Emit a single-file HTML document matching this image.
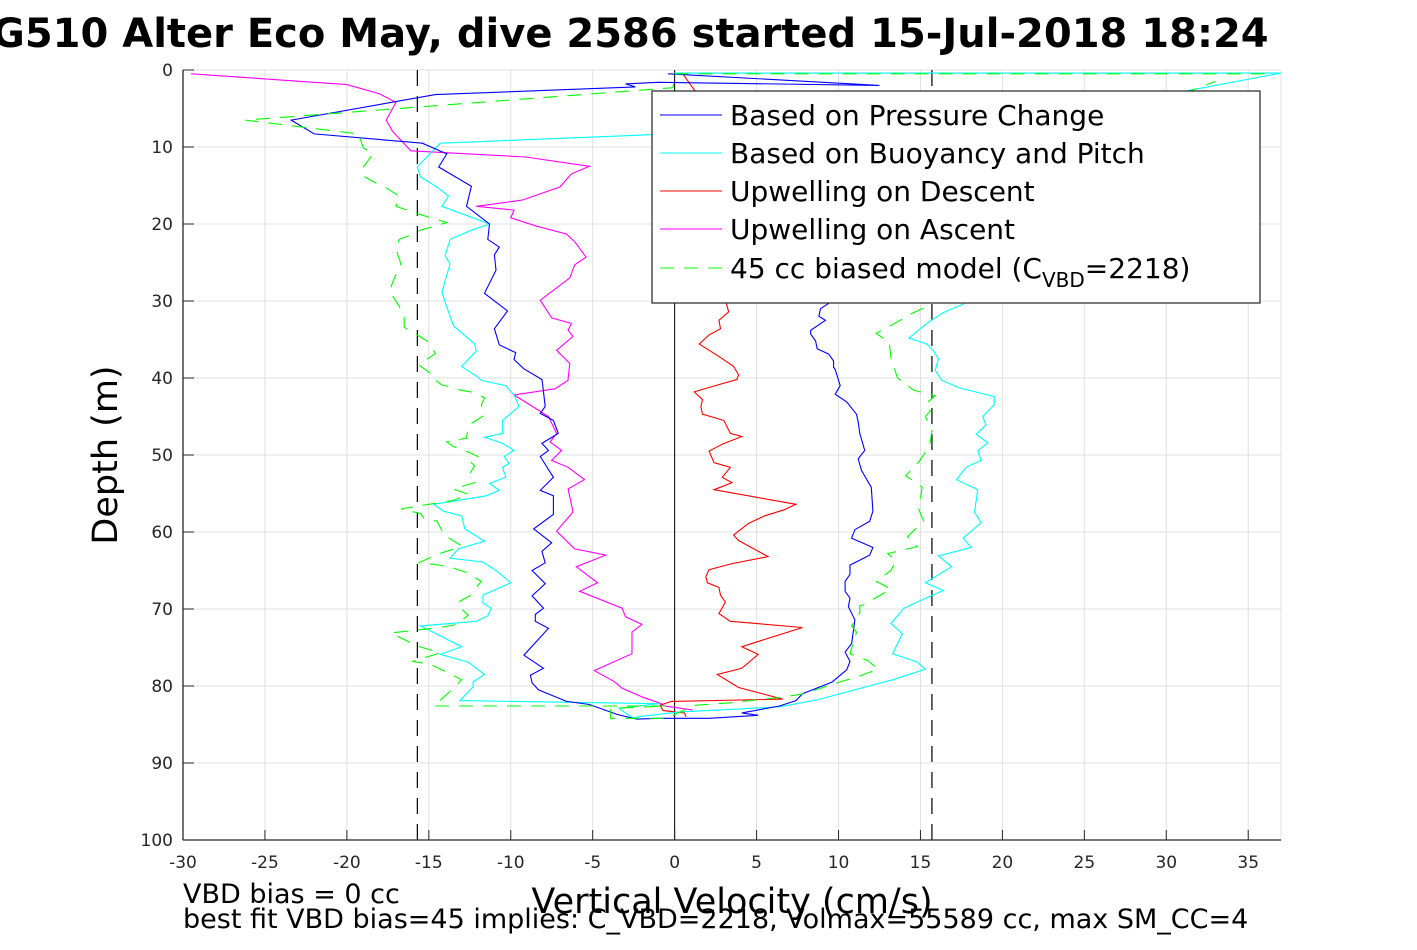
<!DOCTYPE html>
<html><head><meta charset="utf-8"><style>
body{margin:0;background:#fff;}
svg text{font-family:"DejaVu Sans","Liberation Sans",sans-serif;}
</style></head><body>
<svg id="chart" width="1417" height="945" xmlns="http://www.w3.org/2000/svg">
<rect width="1417" height="945" fill="#fff"/>
<text x="-8" y="47" font-size="40" font-weight="bold" fill="#000">G510 Alter Eco May, dive 2586 started 15-Jul-2018 18:24</text>
<g id="grid"></g>
<g id="series"></g>
<g id="axes"></g>
<text transform="translate(117,455) rotate(-90)" text-anchor="middle" font-size="35">Depth (m)</text>
<text x="732" y="913" text-anchor="middle" font-size="35">Vertical Velocity (cm/s)</text>
<text x="183" y="903" font-size="27">VBD bias = 0 cc</text>
<text x="183" y="928" font-size="27">best fit VBD bias=45 implies: C_VBD=2218, Volmax=55589 cc, max SM_CC=4</text>
<g>
<rect x="652" y="91" width="608" height="212" fill="#fff" stroke="#222" stroke-width="1.2"/>
<line x1="660" y1="115" x2="722" y2="115" stroke="#00f"/><text x="730" y="125" font-size="28">Based on Pressure Change</text>
<line x1="660" y1="153" x2="722" y2="153" stroke="#0ff"/><text x="730" y="163" font-size="28">Based on Buoyancy and Pitch</text>
<line x1="660" y1="191" x2="722" y2="191" stroke="#f00"/><text x="730" y="201" font-size="28">Upwelling on Descent</text>
<line x1="660" y1="229" x2="722" y2="229" stroke="#f0f"/><text x="730" y="239" font-size="28">Upwelling on Ascent</text>
<line x1="660" y1="268" x2="722" y2="268" stroke="#0f0" stroke-dasharray="14,10"/><text x="730" y="278" font-size="28">45 cc biased model (C<tspan font-size="20" dy="9">VBD</tspan><tspan dy="-9">=2218)</tspan></text>
</g>
</svg>
<script>
const xTicks=[-30,-25,-20,-15,-10,-5,0,5,10,15,20,25,30,35];
const yTicks=[0,10,20,30,40,50,60,70,80,90,100];
const vbdLimit=15.7;
const bluePressure=[[-0.4,0.5],[12.5,2],[-1,1.6],[-3,1.8],[-2.4,2.2],[-14.6,3.2],[-23.4,6.5],[-22,8.3],[-15.4,9.5],[-13.9,10.9],[-14.4,12.6],[-12.4,15.1],[-12.7,17.7],[-11.3,20],[-11.4,22],[-10.7,23],[-11,24],[-10.9,26],[-11.6,29],[-10.2,31.3],[-11,33.6],[-10.7,35.7],[-9.7,36.7],[-9.8,37.6],[-9.2,38.8],[-8.1,40.2],[-8.05,40.9],[-7.9,43.7],[-8.2,44.6],[-7.4,45.5],[-7.1,47.2],[-8.1,48.5],[-7.7,49.4],[-8.2,50.2],[-7.4,52.9],[-8.2,54.6],[-7.4,55.3],[-7.4,57.7],[-8.6,59.6],[-7.5,61.4],[-8.1,62.5],[-7.9,64],[-8.7,65],[-7.9,66.7],[-8.7,68.3],[-8,69.9],[-8.5,70.7],[-8.5,71.6],[-7.7,72.5],[-9.2,76],[-8,77.7],[-8.8,78.6],[-8.7,79.6],[-8.3,80.5],[-6.6,82],[-5.2,82.4],[-3.5,83.7],[-2.3,84.3],[-0.9,84.2],[2.1,84.2],[5.1,83.8],[4.1,83.5],[6.4,82.6],[7.4,81.9],[7.8,81],[9.6,79.5],[10.5,77.9],[10.7,76.8],[10.4,75.6],[10.8,74.5],[11,71.4],[10.6,69.7],[10.7,68.6],[10.4,67.7],[10.4,66.4],[10.7,65.5],[10.7,64.3],[11.9,63],[12.1,62],[10.8,60.8],[11,59.7],[11.9,58.6],[12.1,57.3],[12,54.2],[11.7,53.1],[11.4,52],[11.2,50.5],[11.6,49.4],[11.3,47.2],[11.2,45.7],[11.1,44.7],[10.5,43.1],[9.8,42.1],[10.1,41],[9.8,38.9],[9.7,38.6],[9.7,37.8],[9.4,36.9],[8.7,36.2],[8.6,35.2],[8.3,34.3],[8.3,33.8],[9.2,32.5],[8.8,32],[8.9,31],[9.7,29.9],[10,20],[9,10],[9.2,2.7]];
const cyanBuoyancy=[[0,0.4],[37,0.4],[28,4],[15,8.2],[-1.5,8.4],[-14.3,9.5],[-14.9,10.8],[-15.7,12.6],[-15.5,13.9],[-14.5,15.2],[-13.8,16.4],[-14.2,17.7],[-11.3,20],[-12.4,20.8],[-13.7,22],[-14,24.1],[-13.7,25.2],[-14.2,28.8],[-14,30.2],[-13.5,33.2],[-12.2,35.6],[-12.1,36.5],[-13,38.5],[-12,39.9],[-11.8,40.3],[-10.3,41],[-9.8,42.2],[-9.5,43.7],[-10.5,45.5],[-10.5,47.2],[-11.6,47.7],[-10.5,48.5],[-9.8,49.4],[-10.4,50.2],[-10.1,51.1],[-10.5,51.6],[-10.3,52.9],[-11.3,53.7],[-10.7,54.6],[-11.5,55.3],[-14.7,56.4],[-14.1,57.3],[-13,57.9],[-12.8,59.6],[-11.6,61.2],[-13.2,62.2],[-13.7,63.4],[-11.7,63.9],[-10.9,65],[-10,66.6],[-11.7,68.2],[-11.7,69.2],[-11.2,69.9],[-11.4,70.9],[-12.1,71.6],[-15.5,72.2],[-13,74.9],[-14.3,75.9],[-12.6,76.9],[-11.6,78.5],[-12.3,79.5],[-12.3,80.1],[-13.1,81.9],[-1,82.3],[-3.4,82.9],[-2.6,84.1],[0.1,83.4],[6.4,82.7],[8.7,81.8],[13.3,79.2],[15.3,77.8],[14.8,76.9],[13.3,75.8],[13.9,73.2],[13.2,71.9],[14,69.9],[15.3,68.6],[16.4,67.6],[15.3,66.6],[16.9,64.5],[16.1,63.1],[18.1,62],[17.6,60.8],[18.7,58.8],[18.3,57.4],[18.5,54.5],[17.2,53.2],[17.8,51.6],[18.7,50.7],[18.5,49.5],[19.1,48.4],[18.4,47.3],[19,46.1],[18.8,45],[19.5,43.5],[19.5,42.4],[17.4,41.3],[16.3,40.3],[15.9,39],[16.1,37.5],[15.8,36.5],[15.4,35.6],[14.3,34.8],[15.4,32.9],[16.4,31.5],[17.6,30.4],[20,25]];
const redDescent=[[0.5,0.5],[2,5],[3,20],[3.15,30.3],[3.3,31.4],[2.7,32.5],[2.8,33.6],[2.1,34.4],[1.5,35.6],[2.7,37.2],[3.6,38.5],[3.9,39.6],[3.8,40.2],[2.3,41.1],[1.2,41.8],[1.7,42.8],[1.6,43.7],[1.7,44.7],[3,45.5],[3.4,47.2],[4.1,47.6],[2.9,48.6],[2.1,49.5],[2.4,51],[3.4,51.6],[2.9,52.9],[3.5,53.6],[2.4,54.5],[7.4,56.4],[6.7,57.1],[5.5,57.9],[4.5,58.9],[3.6,60.4],[3.9,61.1],[5.7,63.2],[3.5,64.1],[2.1,64.9],[1.9,65.8],[2,66.6],[2.7,67.2],[2.8,68.2],[3.1,69.1],[2.7,70.6],[3.4,71.6],[7.8,72.4],[4.1,74.9],[5.1,75.9],[4.1,77.7],[2.6,78.5],[3.9,80.2],[6.6,81.7],[-0.2,82],[-0.9,82.5],[-0.7,83.2],[0.6,83.5],[0.7,84]];
const magentaAscent=[[-29.5,0.5],[-20,1.9],[-18,3.1],[-17,4.2],[-17.6,6.5],[-17.2,8],[-16.1,10.5],[-9.1,11.3],[-5.2,12.5],[-6.3,13.5],[-7,15.2],[-9.3,16.9],[-12.1,17.7],[-9.8,18.2],[-10,19.2],[-8.4,20.3],[-6.6,21.3],[-6.1,22.3],[-5.4,24.3],[-6.1,25.3],[-6.4,27],[-8.2,29.9],[-7.5,32.2],[-6.3,32.9],[-6.5,33.8],[-6.2,34.6],[-7.2,36.4],[-6.4,38.1],[-6.5,40.1],[-6.5,40.3],[-7.3,41.4],[-9.8,42.2],[-7.7,45],[-7.2,47.2],[-7.6,48.3],[-6.9,49.4],[-7.5,50.7],[-6.5,51.6],[-5.5,53.2],[-6.5,54.4],[-6.2,57.4],[-7.2,59.9],[-6.1,62.2],[-4.2,63],[-6,64.5],[-4.7,66.6],[-5.8,67.7],[-3.2,69.9],[-3,71],[-2,72],[-2.6,73],[-2.6,75.8],[-4.9,78],[-3.7,79.4],[-3.2,80.3],[-2,81.4],[-0.8,82.3],[-0.9,82.5],[1.1,83.1]];
const greenModel=[[36,0.5],[0,0.5],[-0.1,2.3],[-26.2,6.5],[-19.3,8.3],[-19,10.1],[-18.4,10.9],[-19.1,12.9],[-18.9,13.9],[-18.4,14.5],[-17.6,15.3],[-16.8,16.4],[-17,17.7],[-15.8,18.6],[-15,19.1],[-13.9,19.8],[-15.5,20.8],[-16.2,21.5],[-16.8,22],[-17,23.3],[-16.7,25.2],[-17.1,27],[-17.4,28.7],[-16.8,30.7],[-16.5,32.1],[-16.5,33.4],[-15.8,34.3],[-15.1,35.2],[-14.6,36.8],[-15.6,38.3],[-14.9,39.4],[-14.9,39.8],[-14.2,40.9],[-13,41.6],[-12.2,41.9],[-11.6,42.6],[-11.8,43.5],[-11.6,44.8],[-12.6,46.2],[-12.7,47.8],[-13.9,48.3],[-13.5,48.9],[-12.5,49.7],[-12,50.2],[-12.5,50.8],[-12.2,51.4],[-12.5,52.4],[-12.2,53.6],[-13.5,54.4],[-12.6,55.1],[-13.5,55.9],[-14.7,56.3],[-16.7,57],[-15.5,57.6],[-15.3,58.2],[-14.5,58.6],[-14.2,59.8],[-14,60.5],[-13,61.8],[-13.6,62.3],[-14.5,62.9],[-15.6,64],[-14.7,64.2],[-13.6,64.6],[-12.8,65.2],[-11.8,66.4],[-12.5,68.3],[-13.2,69.1],[-13.2,69.6],[-12.6,70.8],[-13.3,72],[-14.3,72.4],[-17.3,73.1],[-16.3,74.2],[-15.7,74.8],[-14.3,75.7],[-16,76.8],[-14.9,77.2],[-13.8,78.3],[-13,79.2],[-13.7,80.7],[-14.7,82.6],[-0.5,82.6],[-3.9,82.9],[-3.9,84.2],[-0.5,84.2],[1.2,82.5],[3.3,82.2],[6.4,81.5],[7.9,81],[9.9,79.6],[11.3,78.7],[12.4,77.8],[11.8,76.7],[10.7,75.8],[11.1,73],[10.8,72.2],[11.3,70.5],[11.3,69.6],[11.6,69.4],[12.3,68.5],[13.2,67.4],[12.3,66.4],[13.2,65],[13.5,63.7],[13,62.8],[14.8,61.9],[14.2,60.6],[15.2,58.6],[14.9,57.1],[15.1,54.2],[14.7,53.5],[14.1,52.7],[14.9,50.9],[15.4,49.3],[15.6,48.3],[15.7,46.8],[15.3,45],[15.6,44.3],[15.3,43.4],[15.9,42.3],[14.6,41.6],[13.6,40],[13.2,37.4],[13.1,35.4],[12.3,34.2],[13,33.4],[13.6,32.7],[14.5,31.6],[15.6,30.5],[25,8],[33,1.5]];

const NS='http://www.w3.org/2000/svg';
const X0=183,X1=1281,Y0=70,Y1=840,XMIN=-30,XMAX=37,YMIN=0,YMAX=100;
function sx(v){return X0+(v-XMIN)/(XMAX-XMIN)*(X1-X0);}
function sy(d){return Y0+(d-YMIN)/(YMAX-YMIN)*(Y1-Y0);}
function mk(tag,attrs,parent){const e=document.createElementNS(NS,tag);for(const k in attrs)e.setAttribute(k,attrs[k]);parent.appendChild(e);return e;}
const grid=document.getElementById('grid'),axes=document.getElementById('axes'),ser=document.getElementById('series');
xTicks.forEach(t=>{
  const g=mk('line',{x1:sx(t),x2:sx(t),y1:Y0,y2:Y1,stroke:'#e0e0e0','stroke-width':1},grid);
  
  
  const tk=mk('line',{x1:sx(t),x2:sx(t),y1:Y1,y2:Y1-10,stroke:'#262626'},axes);
  
  
  const lb=mk('text',{x:sx(t),y:868,'text-anchor':'middle','font-size':17,fill:'#262626'},axes);
  lb.textContent=t;
  
  
});
mk('line',{x1:X1,x2:X1,y1:Y0,y2:Y1,stroke:'#e0e0e0'},grid);
yTicks.forEach(t=>{
  const g=mk('line',{x1:X0,x2:X1,y1:sy(t),y2:sy(t),stroke:'#e0e0e0','stroke-width':1},grid);
  
  
  const tk=mk('line',{x1:X0,x2:X0+11,y1:sy(t),y2:sy(t),stroke:'#262626'},axes);
  
  
  const lb=mk('text',{x:173,y:sy(t)+6,'text-anchor':'end','font-size':17,fill:'#262626'},axes);
  lb.textContent=t;
  
  
});
const al=mk('line',{x1:X0,x2:X0,y1:Y0,y2:Y1,stroke:'#262626','stroke-width':1.3},axes);


const ab=mk('line',{x1:X0,x2:X1,y1:Y1,y2:Y1,stroke:'#262626','stroke-width':1.3},axes);


const z=mk('line',{x1:sx(0),x2:sx(0),y1:Y0,y2:Y1,stroke:'#000','stroke-width':1},ser);


[-vbdLimit,vbdLimit].forEach(v=>{
  const l=mk('line',{x1:sx(v),x2:sx(v),y1:Y0,y2:Y1,stroke:'#000','stroke-width':1.2,'stroke-dasharray':'16,10'},ser);
  
  
});
function poly(data,color,name,dash){
  const p=mk('polyline',{points:data.map(d=>sx(d[0]).toFixed(1)+','+sy(d[1]).toFixed(1)).join(' '),fill:'none',stroke:color,'stroke-width':1.1},ser);
  if(dash)p.setAttribute('stroke-dasharray',dash);
  
  
}
poly(redDescent,'#f00','upwelling-descent-line');
poly(magentaAscent,'#f0f','upwelling-ascent-line');
poly(cyanBuoyancy,'#0ff','buoyancy-pitch-line');
poly(bluePressure,'#00f','pressure-change-line');
poly(greenModel,'#0f0','biased-model-line','14,10');
</script>
</body></html>
